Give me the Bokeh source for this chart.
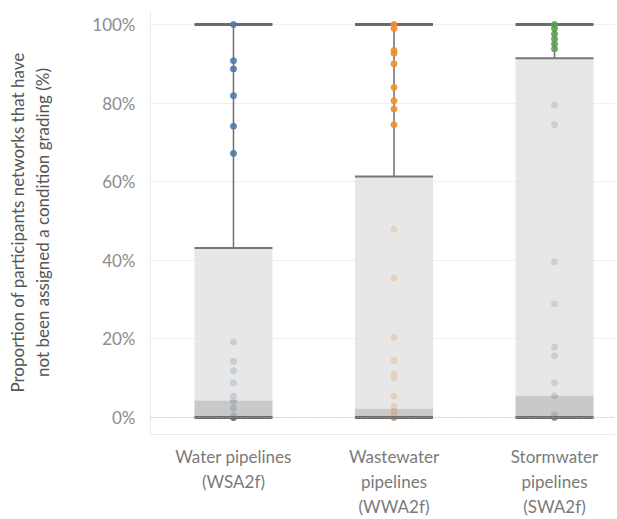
from bokeh.plotting import figure
from bokeh.models import Range1d, FixedTicker, NumeralTickFormatter, Span
from bokeh.embed import file_html
from bokeh.resources import INLINE

categories = ["Water pipelines\n(WSA2f)", "Wastewater\npipelines\n(WWA2f)", "Stormwater\npipelines\n(SWA2f)"]
positions = [0, 1, 2]
colors = ["#4e79a7", "#f28e2b", "#59a14f"]

whisker_low = [0.0, 0.0, 0.0]
q1 = [0.0, 0.0, 0.0]
median = [0.043, 0.022, 0.055]
q3 = [0.431, 0.613, 0.914]
whisker_high = [1.0, 1.0, 1.0]

water = [1.0, 0.908, 0.887, 0.819, 0.741, 0.672, 0.192, 0.143, 0.119, 0.088, 0.054, 0.041, 0.024, 0.005, 0.0, 0.0]
wastewater = [1.0, 0.99, 0.934, 0.927, 0.90, 0.84, 0.806, 0.785, 0.745, 0.479, 0.355, 0.204, 0.145, 0.11, 0.10, 0.054, 0.028, 0.015, 0.005, 0.0]
stormwater = [1.0, 0.99, 0.976, 0.963, 0.95, 0.938, 0.795, 0.745, 0.396, 0.289, 0.179, 0.157, 0.088, 0.055, 0.007, 0.0]
series = [water, wastewater, stormwater]

y_ticks = [0, 0.2, 0.4, 0.6, 0.8, 1.0]

FONT = "Lato"

p = figure(width=615, height=519, output_backend="svg", toolbar_location=None,
           x_range=Range1d(-0.517, 2.380), y_range=Range1d(-0.0434, 1.0357),
           min_border_left=150, min_border_right=0, min_border_top=10, min_border_bottom=80)
p.outline_line_color = None
p.background_fill_color = "white"

# grid
p.xgrid.grid_line_color = None
p.ygrid.grid_line_color = "#efefef"
p.ygrid.grid_line_width = 1
p.yaxis.ticker = FixedTicker(ticks=y_ticks)
p.yaxis.formatter = NumeralTickFormatter(format="0%")
zero = Span(location=0, dimension="width", line_color="#bbbbbb", line_dash="1 2", line_width=1)
p.add_layout(zero)

# axes
p.xaxis.ticker = FixedTicker(ticks=positions)
p.xaxis.major_label_overrides = {pos: lab for pos, lab in zip(positions, categories)}
for ax in (p.xaxis, p.yaxis):
    ax.major_tick_line_color = None
    ax.minor_tick_line_color = None
    ax.axis_line_color = "#eaeaea"
    ax.major_label_text_font = FONT
    ax.major_label_text_color = "#8c8c8c"
    ax.major_label_text_font_size = "17px"
p.xaxis.major_label_standoff = 5
p.yaxis.major_label_standoff = 9
p.xaxis.major_label_text_color = "#7a7a7a"
p.yaxis.axis_label = "Proportion of participants networks that have\nnot been assigned a condition grading (%)"
p.yaxis.axis_label_text_font = FONT
p.yaxis.axis_label_text_font_style = "normal"
p.yaxis.axis_label_text_font_size = "17px"
p.yaxis.axis_label_text_color = "#555555"
p.yaxis.axis_label_standoff = 36

bw = 0.486

# whiskers
p.segment(x0=positions, y0=q3, x1=positions, y1=whisker_high, line_color="#6e6e6e", line_width=1.5)
p.segment(x0=positions, y0=whisker_low, x1=positions, y1=q1, line_color="#6e6e6e", line_width=1.5)
# caps
p.segment(x0=[x - bw / 2 for x in positions], y0=whisker_high, x1=[x + bw / 2 for x in positions], y1=whisker_high,
          line_color="#6a6a6a", line_width=3)

# points
for x, vals, c in zip(positions, series, colors):
    p.scatter(x=[x] * len(vals), y=vals, size=6, fill_color=c, line_color=c, fill_alpha=0.85, line_alpha=0.9)

# boxes
p.vbar(x=positions, width=bw, bottom=median, top=q3, fill_color="#e0e0e0", fill_alpha=0.78, line_color=None)
p.vbar(x=positions, width=bw, bottom=q1, top=median, fill_color="#bcbcbc", fill_alpha=0.8, line_color=None)
p.segment(x0=[x - bw / 2 for x in positions], y0=q3, x1=[x + bw / 2 for x in positions], y1=q3,
          line_color="#777777", line_width=2)
p.segment(x0=[x - bw / 2 for x in positions], y0=whisker_low, x1=[x + bw / 2 for x in positions], y1=whisker_low,
          line_color="#6a6a6a", line_width=3)

open("out.html", "w").write(file_html(p, INLINE))
